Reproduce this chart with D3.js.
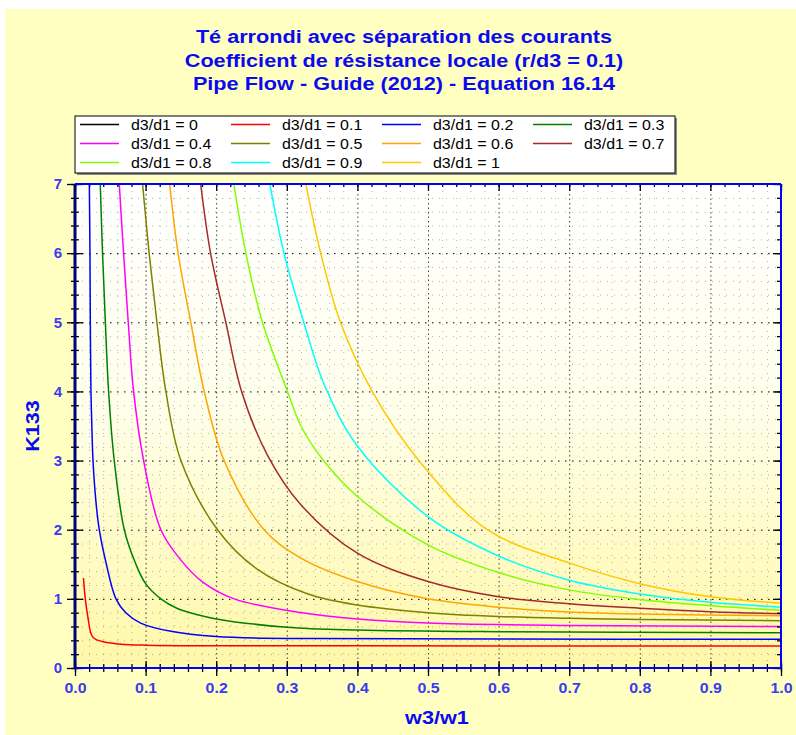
<!DOCTYPE html>
<html>
<head>
<meta charset="utf-8">
<script src="https://cdn.jsdelivr.net/npm/d3@7"></script>
<style>
  body { margin: 0; background: #fff; }
  text { font-family: "Liberation Sans", Arial, sans-serif; }
</style>
</head>
<body>
<div id="chart"></div>
<script>
// chart text
const titleLines = [
    "Té arrondi avec séparation des courants",
    "Coefficient de résistance locale (r/d3 = 0.1)",
    "Pipe Flow - Guide (2012) - Equation 16.14"
];
const xTitle = "w3/w1";
const yTitle = "K133";

// tick labels
const xTickValues = [0, 0.1, 0.2, 0.3, 0.4, 0.5, 0.6, 0.7, 0.8, 0.9, 1.0];
const yTickValues = [0, 1, 2, 3, 4, 5, 6, 7];

// series: d3/d1 ratio, w3/w1 values and K values
const ratios = ["0", "0.1", "0.2", "0.3", "0.4", "0.5", "0.6", "0.7", "0.8", "0.9", "1"];
const colors = ["#000000", "#FF0000", "#0000FF", "#008000", "#FF00FF", "#808000",
                "#FFA500", "#A52A2A", "#80FF00", "#00FFFF", "#FFC800"];

const w_00 = [];
const k_00 = [];
const w_01 = [0.012, 0.0146, 0.0188, 0.022, 0.025, 0.03, 0.04, 0.065, 0.1, 0.2, 0.4, 1.0];
const k_01 = [1.30, 1.00, 0.70, 0.52, 0.45, 0.41, 0.38, 0.345, 0.33, 0.322, 0.32, 0.318];
const w_02 = [0.0203, 0.0212, 0.0217, 0.0226, 0.0236, 0.0255, 0.0297, 0.0344, 0.044, 0.058, 0.072, 0.093, 0.136, 0.2, 0.334, 0.6, 1.0];
const k_02 = [7, 6, 5, 4, 3.6, 3.0, 2.4, 2.0, 1.52, 1.0, 0.80, 0.65, 0.53, 0.455, 0.425, 0.418, 0.415];
const w_03 = [0.0358, 0.039, 0.043, 0.0476, 0.0556, 0.0698, 0.0863, 0.1, 0.1216, 0.145, 0.1735, 0.2, 0.3, 0.4, 0.6, 1.0];
const k_03 = [7, 6, 5, 4, 3, 2, 1.5, 1.22, 1.0, 0.86, 0.77, 0.71, 0.59, 0.55, 0.525, 0.51];
const w_04 = [0.0627, 0.0688, 0.0754, 0.083, 0.0972, 0.1216, 0.15, 0.18, 0.2254, 0.3244, 0.4, 0.5, 0.7, 1.0];
const k_04 = [7, 6, 5, 4, 3, 2, 1.56, 1.25, 1.0, 0.795, 0.71, 0.65, 0.615, 0.60];
const w_05 = [0.0957, 0.105, 0.116, 0.1287, 0.15, 0.2018, 0.258, 0.33, 0.4, 0.5, 0.6, 0.7, 0.8, 1.0];
const k_05 = [7, 6, 5, 4, 3, 2, 1.43, 1.07, 0.91, 0.80, 0.745, 0.718, 0.703, 0.685];
const w_06 = [0.134, 0.146, 0.164, 0.183, 0.2112, 0.2678, 0.32, 0.4, 0.5, 0.6, 0.7, 0.8, 1.0];
const k_06 = [7, 6, 5, 4, 3, 2, 1.59, 1.25, 1.0, 0.88, 0.81, 0.78, 0.755];
const w_07 = [0.178, 0.192, 0.2136, 0.236, 0.2725, 0.32, 0.4, 0.5, 0.6, 0.7, 0.8, 0.9, 1.0];
const k_07 = [7, 6, 5, 4, 3.08, 2.36, 1.66, 1.25, 1.03, 0.93, 0.865, 0.815, 0.785];
const w_08 = [0.225, 0.242, 0.2655, 0.301, 0.32, 0.352, 0.4, 0.5, 0.6, 0.7, 0.8, 0.9, 1.0];
const k_08 = [7, 6, 5, 4, 3.5, 3.0, 2.48, 1.78, 1.38, 1.13, 0.99, 0.90, 0.835];
const w_09 = [0.276, 0.296, 0.324, 0.353, 0.4, 0.5, 0.6, 0.7, 0.8, 0.9, 1.0];
const k_09 = [7, 6, 5, 4.1, 3.21, 2.19, 1.62, 1.27, 1.07, 0.95, 0.88];
const w_10 = [0.327, 0.348, 0.376, 0.421, 0.487, 0.584, 0.7, 0.8, 0.9, 1.0];
const k_10 = [7, 6, 5, 4, 3, 2, 1.52, 1.22, 1.03, 0.937];

const wSeries = [w_00, w_01, w_02, w_03, w_04, w_05, w_06, w_07, w_08, w_09, w_10];
const kSeries = [k_00, k_01, k_02, k_03, k_04, k_05, k_06, k_07, k_08, k_09, k_10];

const series = ratios.map((r, i) => ({
    label: `d3/d1 = ${r}`,
    color: colors[i],
    points: wSeries[i].map((w, j) => ({ w: w, k: kSeries[i][j] }))
}));

// layout
const W = 796, H = 735;
const X0 = 75, X1 = 781, Y0 = 668, Y1 = 184;
const SX = 1.14; // the source font is drawn a bit wider than Arial
const labelBlue = "#3b3bf0";
const titleBlue = "#0a0af0";

const x = d3.scaleLinear().domain([0, 1]).range([X0, X1]);
const y = d3.scaleLinear().domain([0, 7]).range([Y0, Y1]);

const svg = d3.select("#chart").append("svg")
    .attr("width", W)
    .attr("height", H);

svg.append("rect")
    .attr("x", 5).attr("y", 9)
    .attr("width", W - 5).attr("height", H - 9)
    .attr("fill", "#FFFFC2");

const defs = svg.append("defs");
const grad = defs.append("linearGradient")
    .attr("id", "plotBg")
    .attr("x1", 0).attr("y1", 0).attr("x2", 0).attr("y2", 1);
grad.append("stop").attr("offset", "0%").attr("stop-color", "#FFFFFF");
grad.append("stop").attr("offset", "45%").attr("stop-color", "#FFFFEC");
grad.append("stop").attr("offset", "100%").attr("stop-color", "#FFF8A8");

defs.append("clipPath").attr("id", "plotClip")
    .append("rect")
    .attr("x", X0).attr("y", Y1)
    .attr("width", X1 - X0).attr("height", Y0 - Y1);

svg.append("rect")
    .attr("x", X0).attr("y", Y1)
    .attr("width", X1 - X0).attr("height", Y0 - Y1)
    .attr("fill", "url(#plotBg)");

// grids
const xMinor = d3.range(1, 50).filter(i => i % 5 !== 0).map(i => i / 50);
const yMinor = d3.range(1, 35).filter(i => i % 5 !== 0).map(i => i / 5);
const xMajorInner = xTickValues.slice(1, -1);
const yMajorInner = yTickValues.slice(1, -1);

function vGrid(vals, color, dash, op) {
    svg.append("g")
        .attr("transform", `translate(0,${Y0})`)
        .call(d3.axisBottom(x).tickValues(vals).tickSize(-(Y0 - Y1)).tickFormat(""))
        .call(g => g.select(".domain").remove())
        .call(g => g.selectAll("line")
            .attr("stroke", color)
            .attr("stroke-dasharray", dash)
            .attr("opacity", op));
}
function hGrid(vals, color, dash, op) {
    svg.append("g")
        .attr("transform", `translate(${X0},0)`)
        .call(d3.axisLeft(y).tickValues(vals).tickSize(-(X1 - X0)).tickFormat(""))
        .call(g => g.select(".domain").remove())
        .call(g => g.selectAll("line")
            .attr("stroke", color)
            .attr("stroke-dasharray", dash)
            .attr("opacity", op));
}
vGrid(xMinor, "#808080", "1,6", 0.6);
hGrid(yMinor, "#808080", "1,6", 0.6);
vGrid(xMajorInner, "#303030", "1.5,3", 0.9);
hGrid(yMajorInner, "#000000", "1.5,5.5", 1);

// curves
const line = d3.line()
    .x(d => x(d.w))
    .y(d => y(d.k))
    .curve(d3.curveCatmullRom.alpha(0.5));

svg.append("g")
    .attr("clip-path", "url(#plotClip)")
    .selectAll("path")
    .data(series.filter(s => s.points.length > 1))
    .join("path")
    .attr("d", d => line(d.points))
    .attr("fill", "none")
    .attr("stroke", d => d.color)
    .attr("stroke-width", 1.5);

// tick marks
function ticks(axis, tx, ty, vals, size) {
    svg.append("g")
        .attr("transform", `translate(${tx},${ty})`)
        .call(axis.tickValues(vals).tickSize(size).tickFormat(""))
        .call(g => g.select(".domain").remove())
        .call(g => g.selectAll("line").attr("stroke", "#000").attr("stroke-width", 1.3));
}
const xAll = d3.range(0, 51).map(i => i / 50);
const yAll = d3.range(0, 36).map(i => i / 5);
// bottom: crossing ticks
ticks(d3.axisBottom(x), 0, Y0, xAll, 4);
ticks(d3.axisTop(x), 0, Y0, xAll, 4);
ticks(d3.axisBottom(x), 0, Y0, xTickValues, 8);
ticks(d3.axisTop(x), 0, Y0, xTickValues, 7);
// left: crossing ticks
ticks(d3.axisLeft(y), X0, 0, yAll, 4);
ticks(d3.axisRight(y), X0, 0, yAll, 4);
ticks(d3.axisLeft(y), X0, 0, yTickValues, 8);
ticks(d3.axisRight(y), X0, 0, yTickValues, 8);
// top and right: inward ticks
ticks(d3.axisBottom(x), 0, Y1, xAll, 3);
ticks(d3.axisBottom(x), 0, Y1, xTickValues, 7);
ticks(d3.axisLeft(y), X1, 0, yAll, 4);
ticks(d3.axisLeft(y), X1, 0, yTickValues, 8);

// frame lines
svg.append("line")
    .attr("x1", x(0)).attr("x2", x(1)).attr("y1", y(7)).attr("y2", y(7))
    .attr("stroke", "#0000FF").attr("stroke-width", 2);
svg.append("line")
    .attr("x1", x(1)).attr("x2", x(1)).attr("y1", y(0)).attr("y2", y(7))
    .attr("stroke", "#0000FF").attr("stroke-width", 2);
svg.append("line")
    .attr("x1", x(0)).attr("x2", x(1)).attr("y1", y(0)).attr("y2", y(0))
    .attr("stroke", "#0000FF").attr("stroke-width", 2);
svg.append("line")
    .attr("x1", x(0)).attr("x2", x(0)).attr("y1", y(0)).attr("y2", y(7))
    .attr("stroke", "#00007A").attr("stroke-width", 3);

// tick labels
svg.append("g")
    .attr("transform", `translate(0,${Y0})`)
    .call(d3.axisBottom(x).tickValues(xTickValues).tickSize(0).tickPadding(15).tickFormat(d3.format(".1f")))
    .call(g => g.select(".domain").remove())
    .call(g => g.selectAll("text")
        .attr("transform", `scale(${SX},1)`)
        .attr("fill", labelBlue)
        .attr("font-size", 14)
        .attr("font-weight", "bold")
        .attr("font-family", "'Liberation Sans', Arial, sans-serif"));

svg.append("g")
    .attr("transform", `translate(${X0},0)`)
    .call(d3.axisLeft(y).tickValues(yTickValues).tickSize(0).tickPadding(13).tickFormat(d3.format("d")))
    .call(g => g.select(".domain").remove())
    .call(g => g.selectAll("text")
        .attr("fill", labelBlue)
        .attr("font-size", 15)
        .attr("font-weight", "bold")
        .attr("font-family", "'Liberation Sans', Arial, sans-serif"));

// titles
function stretchedText(str, tx, ty, size, weight, fill, rotate = 0) {
    return svg.append("text")
        .attr("transform", `translate(${tx},${ty}) rotate(${rotate}) scale(${SX},1)`)
        .attr("text-anchor", "middle")
        .attr("font-size", size)
        .attr("font-weight", weight)
        .attr("fill", fill)
        .text(str);
}
titleLines.forEach((t, i) => stretchedText(t, 404, 43 + i * 23.5, 19, "bold", titleBlue));
stretchedText(xTitle, 437, 724, 19, "bold", titleBlue);
stretchedText(yTitle, 39, 426, 19, "bold", titleBlue, -90);

// legend
const legend = svg.append("g");
legend.append("rect")
    .attr("x", 77).attr("y", 118).attr("width", 600).attr("height", 57)
    .attr("fill", "#8a8a8a");
legend.append("rect")
    .attr("x", 75).attr("y", 116).attr("width", 600).attr("height", 57)
    .attr("fill", "#fff").attr("stroke", "#000").attr("stroke-width", 1);

const item = legend.selectAll("g.item")
    .data(series)
    .join("g")
    .attr("class", "item")
    .attr("transform", (d, i) => `translate(${80 + (i % 4) * 151},${124.5 + Math.floor(i / 4) * 19})`);
item.append("line")
    .attr("x1", 0).attr("x2", 39)
    .attr("stroke", d => d.color)
    .attr("stroke-width", 1.5);
item.append("text")
    .attr("transform", `translate(51,5) scale(${SX},1)`)
    .attr("font-size", 14)
    .attr("fill", "#000")
    .text(d => d.label);
</script>
</body>
</html>
